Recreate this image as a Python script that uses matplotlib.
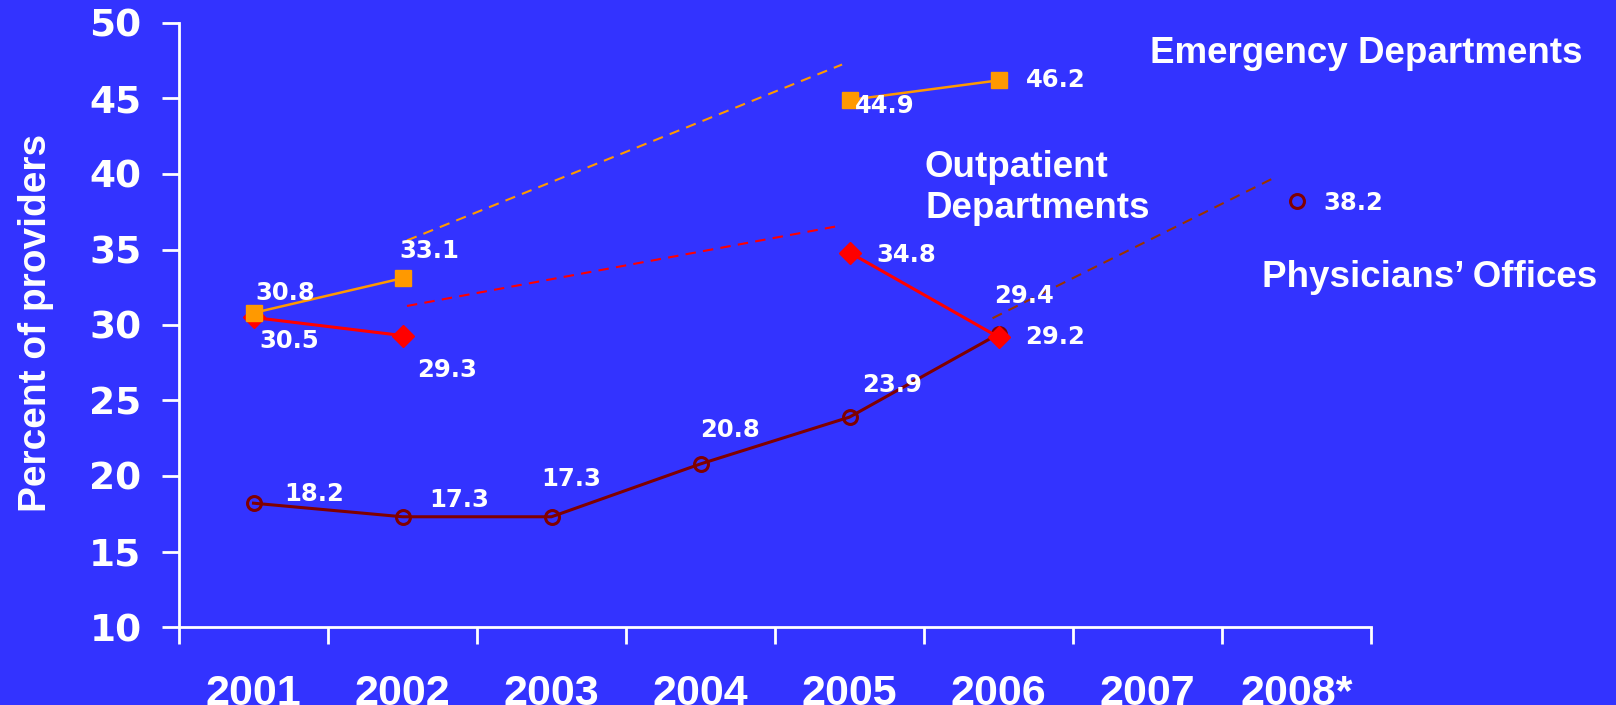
import numpy as np
import matplotlib
matplotlib.use("Agg")
import matplotlib.pyplot as plt

# ---- data ----
years = ["2001", "2002", "2003", "2004", "2005", "2006", "2007", "2008*"]
emergency = [30.8, 33.1, np.nan, np.nan, 44.9, 46.2, np.nan, np.nan]
outpatient = [30.5, 29.3, np.nan, np.nan, 34.8, 29.2, np.nan, np.nan]
physicians = [18.2, 17.3, 17.3, 20.8, 23.9, 29.4, np.nan, 38.2]
y_ticks = [10, 15, 20, 25, 30, 35, 40, 45, 50]

# ---- style ----
BG = "#3333FF"
ORANGE = "#FF9900"
RED = "#FF0000"
BROWN = "#800000"
BROWN_DASH = "#993300"
SANS = ["Liberation Sans", "DejaVu Sans"]
WIDE = ["DejaVu Sans"]

plt.rcParams["font.family"] = SANS
plt.rcParams["font.weight"] = "bold"

W, H = 1616, 705
fig = plt.figure(figsize=(W / 100, H / 100), dpi=100, facecolor=BG)
ax = fig.add_axes([179 / W, 1 - 627 / H, (1371 - 179) / W, (627 - 23) / H])
ax.set_facecolor(BG)

x = np.arange(1, len(years) + 1)

# dashed gap connectors (drawn from data endpoints with visual offsets)
def connector(vals, i0, i1, dx0, dy0, dx1, dy1, color):
    ax.plot([x[i0] + dx0, x[i1] + dx1], [vals[i0] + dy0, vals[i1] + dy1],
            color=color, lw=1.5, dashes=(5, 3.5), zorder=2)

connector(emergency, 1, 4, 0.03, 2.5, -0.05, 2.35, ORANGE)
connector(outpatient, 1, 4, 0.03, 1.96, -0.05, 1.8, RED)
connector(physicians, 5, 7, -0.04, 1.05, -0.15, 1.55, BROWN_DASH)

ax.plot(x, physicians, color=BROWN, lw=2.2, marker="o", ms=10, mfc="none",
        mec=BROWN, mew=2.2, zorder=3)
ax.plot(x, outpatient, color=RED, lw=2.2, marker="D", ms=11, mfc=RED,
        mec=RED, zorder=4)
ax.plot(x, emergency, color=ORANGE, lw=1.8, marker="s", ms=12, mfc=ORANGE,
        mec=ORANGE, zorder=5)

# value labels with pixel offsets
label_offsets = {
    "emergency": [(32, 22), (27, 29), None, None, (35, -4), (57, 2), None, None],
    "outpatient": [(36, -22), (45, -32), None, None, (57, 0), (57, 2), None, None],
    "physicians": [(61, 11), (57, 19), (20, 40), (30, 36), (43, 34), (25, 40), None, (57, 0)],
}
for name, vals in (("emergency", emergency), ("outpatient", outpatient),
                   ("physicians", physicians)):
    for xi, v, off in zip(x, vals, label_offsets[name]):
        if off is None or np.isnan(v):
            continue
        ax.annotate(f"{v:.1f}", (xi, v), xytext=(off[0], off[1] - 2),
                    textcoords="offset pixels", ha="center", va="center",
                    color="white", fontsize=17.5, fontweight="bold",
                    family=WIDE, zorder=6)

# series names
name_kw = dict(color="white", fontsize=26.5, fontweight="bold", ha="left",
               va="baseline")
fig.text(1150 / W, 1 - 63 / H, "Emergency Departments", **name_kw)
fig.text(925 / W, 1 - 177 / H, "Outpatient", **name_kw)
fig.text(925 / W, 1 - 218 / H, "Departments", **name_kw)
fig.text(1262 / W, 1 - 287 / H, "Physicians\u2019 Offices", **name_kw)

# axes
ax.set_xlim(0.5, len(years) + 0.5)
ax.set_ylim(10, 50)
ax.set_yticks(y_ticks)
ax.set_yticklabels([str(t) for t in y_ticks])
ax.set_xticks(np.arange(0.5, len(years) + 1, 1.0))
ax.set_xticklabels([])
ax.set_xticks(x, minor=True)
ax.set_xticklabels(years, minor=True)

for s in ("top", "right"):
    ax.spines[s].set_visible(False)
for s in ("left", "bottom"):
    ax.spines[s].set_color("white")
    ax.spines[s].set_linewidth(2)

ax.tick_params(axis="y", which="major", direction="out", length=12, width=2,
               color="white", labelcolor="white", labelsize=27, pad=15)
ax.tick_params(axis="x", which="major", direction="out", length=12, width=2,
               color="white")
ax.tick_params(axis="x", which="minor", length=0, labelcolor="white",
               labelsize=31, pad=34)
for lbl in ax.get_yticklabels():
    lbl.set_fontweight("bold")
    lbl.set_family(WIDE)
for lbl in ax.get_xticklabels(minor=True):
    lbl.set_fontweight("bold")

fig.text(36 / W, 1 - 323 / H, "Percent of providers", rotation=90,
         color="white", fontsize=28, fontweight="bold", ha="center", va="center")

fig.savefig("out.png", dpi=100, facecolor=BG)
